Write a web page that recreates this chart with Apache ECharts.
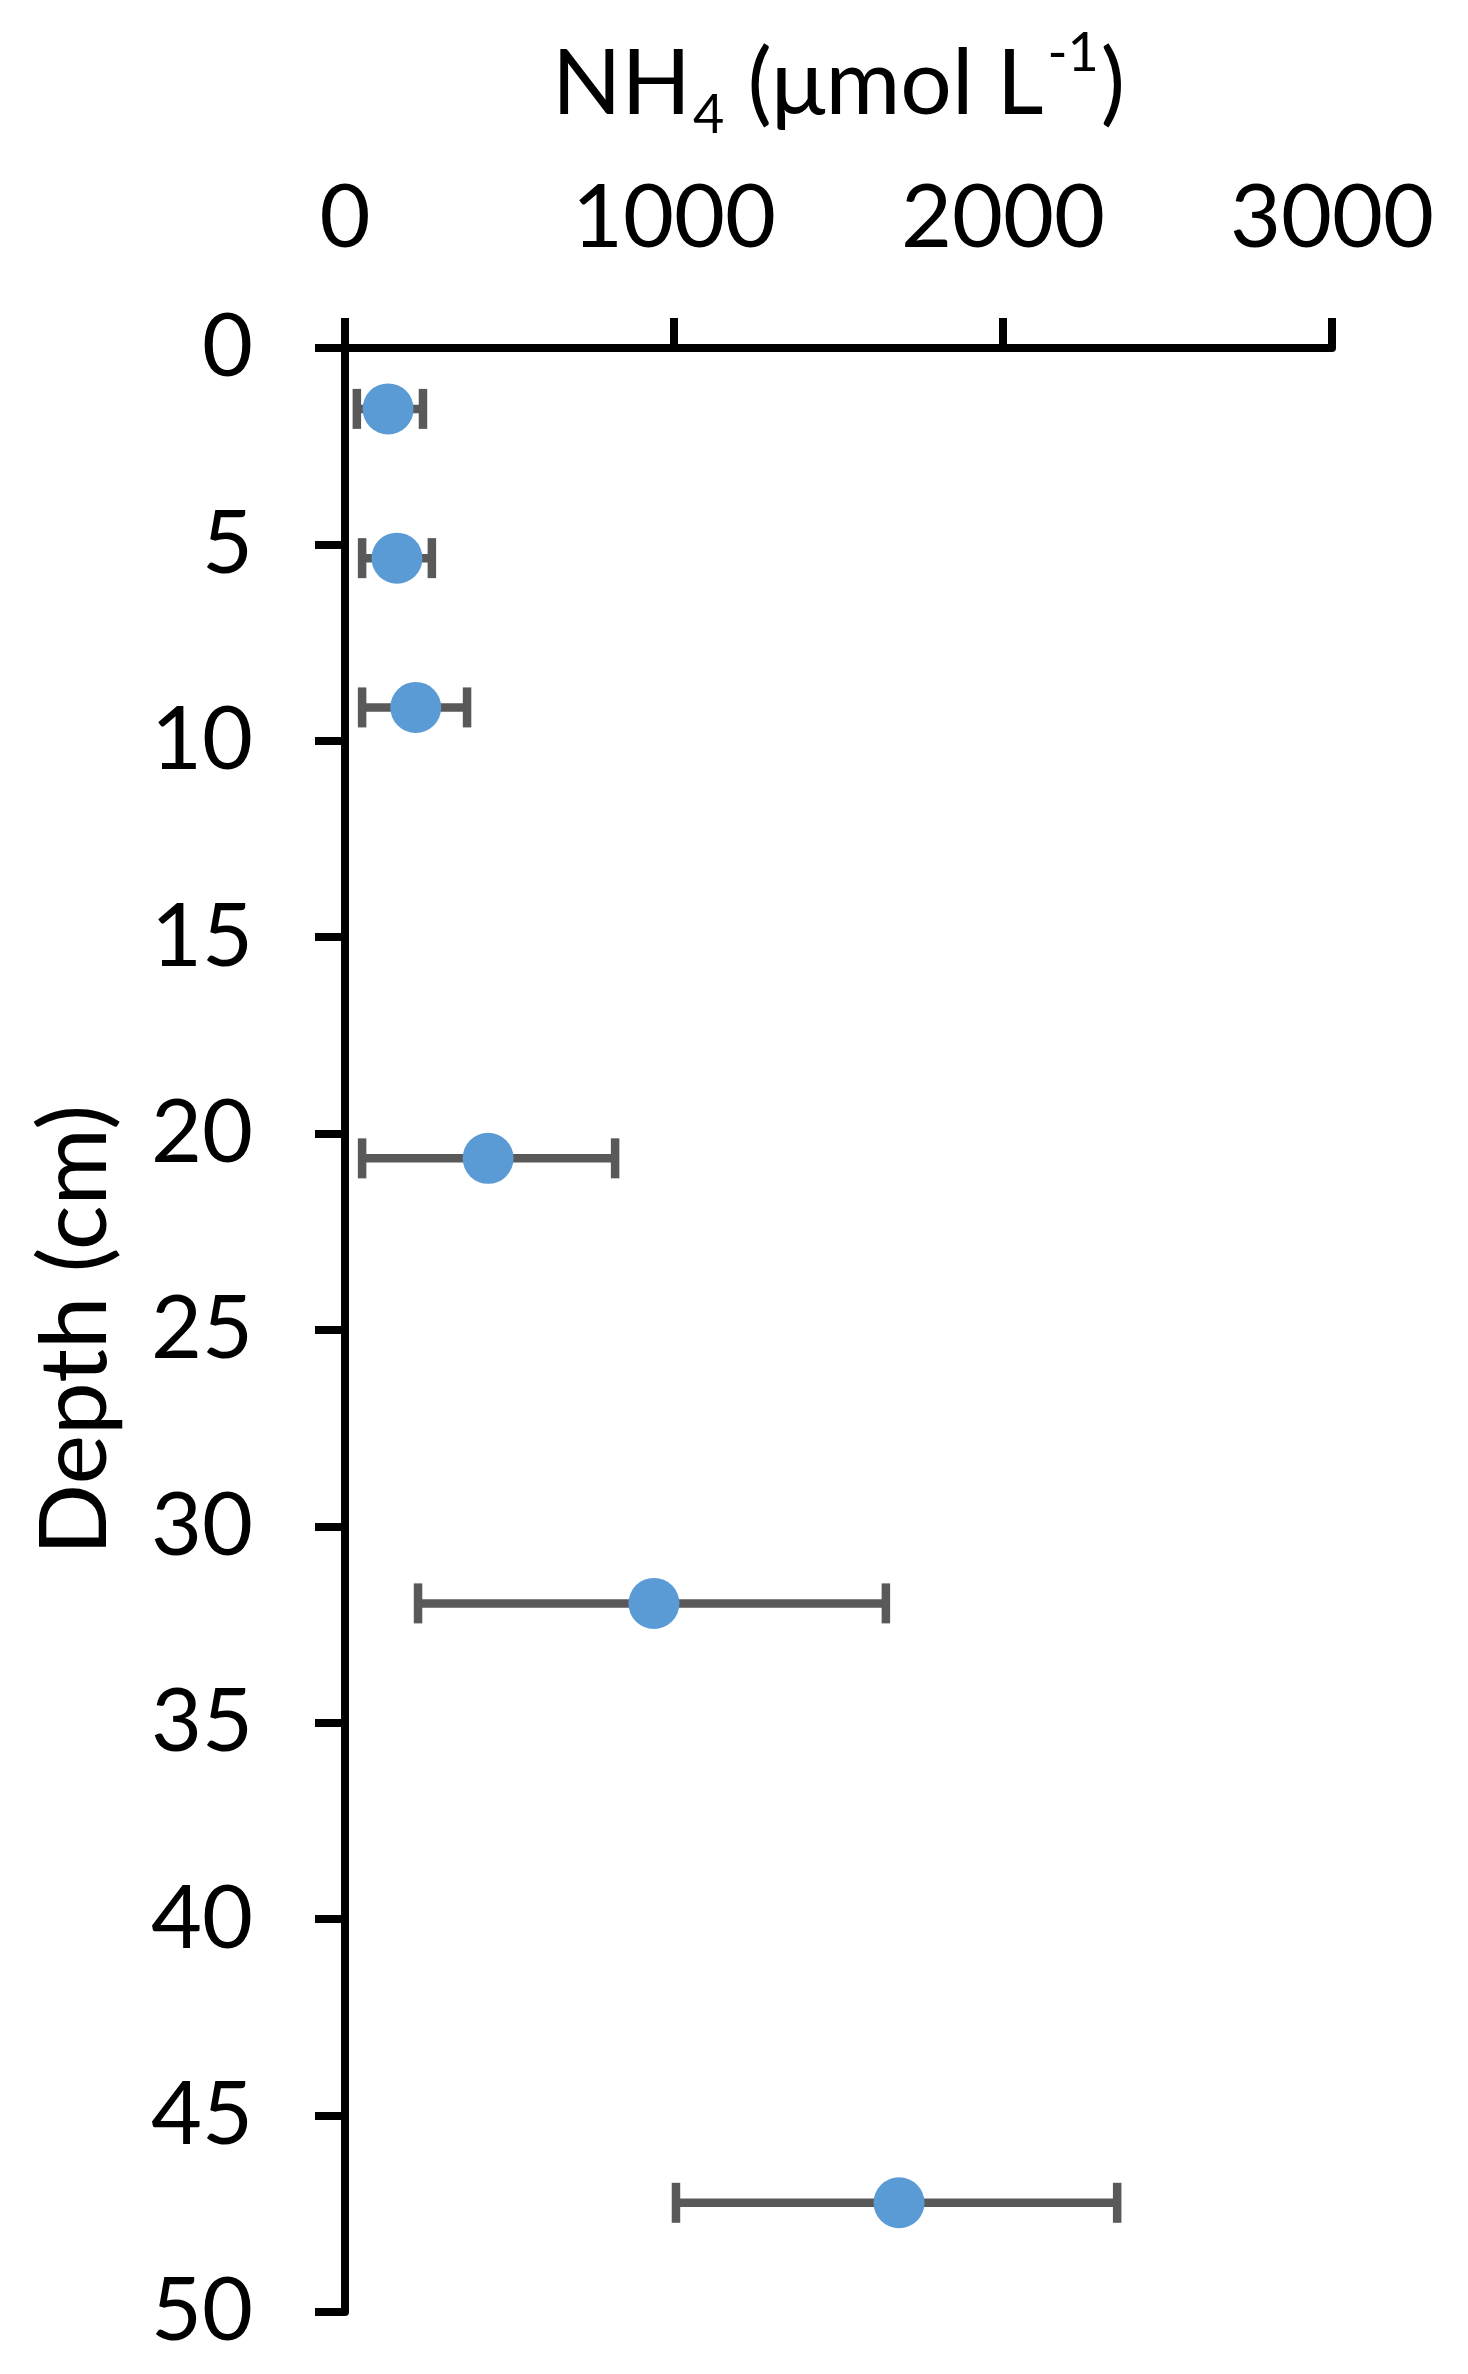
<!DOCTYPE html>
<html>
<head>
<meta charset="utf-8">
<script src="https://cdn.jsdelivr.net/npm/echarts@6/dist/echarts.min.js"></script>
<style>
html,body{margin:0;padding:0;background:#fff;}
#chart{width:1468px;height:2374px;}
</style>
</head>
<body>
<div id="chart"></div>
<script>
// Data
const depths = [1.55, 5.35, 9.15, 20.63, 31.96, 47.22];
const nh4 = [131, 158, 215, 435, 939, 1684];
const errLow = [36, 52, 52, 52, 222, 1006];
const errHigh = [237, 264, 371, 821, 1644, 2347];
const xTicks = [0, 1000, 2000, 3000];
const yTicks = [0, 5, 10, 15, 20, 25, 30, 35, 40, 45, 50];

const FONT = 'Lato';
const chart = echarts.init(document.getElementById('chart'), null, {renderer: 'canvas'});

const pointData = nh4.map((v, i) => [v, depths[i]]);
const errData = depths.map((d, i) => [errLow[i], errHigh[i], d]);

const option = {
  backgroundColor: '#ffffff',
  animation: false,
  grid: {left: 345, top: 348, right: 136, bottom: 62, containLabel: false},
  xAxis: {
    type: 'value', position: 'top', min: 0, max: 3000, interval: 1000,
    name: '{n|NH}{sub|4}{n| (μmol L}{sup|-1}{n|)}',
    nameLocation: 'middle', nameGap: 205,
    nameTextStyle: {
      fontFamily: FONT, color: '#000',
      rich: {
        n: {fontFamily: FONT, fontSize: 91, color: '#000', lineHeight: 116, verticalAlign: 'middle'},
        sub: {fontFamily: FONT, fontSize: 54, color: '#000', verticalAlign: 'bottom', lineHeight: 116, padding: [0, 0, 0, 2]},
        sup: {fontFamily: FONT, fontSize: 54, color: '#000', verticalAlign: 'top', lineHeight: 116, padding: [0, 2, 0, 4]}
      }
    },
    axisLine: {show: true, onZero: false, lineStyle: {color: '#000', width: 8}},
    axisTick: {show: true, inside: false, length: 30, lineStyle: {color: '#000', width: 8}},
    axisLabel: {margin: 85, fontFamily: FONT, fontSize: 88, color: '#000',
      formatter: v => xTicks.includes(v) ? String(v) : ''},
    splitLine: {show: false}
  },
  yAxis: {
    type: 'value', inverse: true, min: 0, max: 50, interval: 5,
    name: 'Depth (cm)', nameLocation: 'middle', nameGap: 222, nameRotate: 90,
    nameTextStyle: {fontFamily: FONT, fontSize: 94, color: '#000'},
    axisLine: {show: true, onZero: false, lineStyle: {color: '#000', width: 8}},
    axisTick: {show: true, inside: false, length: 30, lineStyle: {color: '#000', width: 8}},
    axisLabel: {margin: 92, fontFamily: FONT, fontSize: 88, color: '#000',
      formatter: v => yTicks.includes(v) ? String(v) : ''},
    splitLine: {show: false}
  },
  series: [
    {
      type: 'custom',
      z: 2,
      data: errData,
      renderItem: function (params, api) {
        const lo = api.coord([api.value(0), api.value(2)]);
        const hi = api.coord([api.value(1), api.value(2)]);
        const capH = 20;
        const style = {stroke: '#595959', lineWidth: 8.5};
        return {
          type: 'group',
          children: [
            {type: 'line', shape: {x1: lo[0], y1: lo[1], x2: hi[0], y2: hi[1]}, style: style},
            {type: 'line', shape: {x1: lo[0], y1: lo[1] - capH, x2: lo[0], y2: lo[1] + capH}, style: style},
            {type: 'line', shape: {x1: hi[0], y1: hi[1] - capH, x2: hi[0], y2: hi[1] + capH}, style: style}
          ]
        };
      }
    },
    {
      type: 'scatter',
      z: 3,
      symbol: 'circle',
      symbolSize: 51,
      itemStyle: {color: '#5B9BD5', opacity: 1},
      data: pointData
    }
  ]
};
chart.setOption(option);
</script>
</body>
</html>
